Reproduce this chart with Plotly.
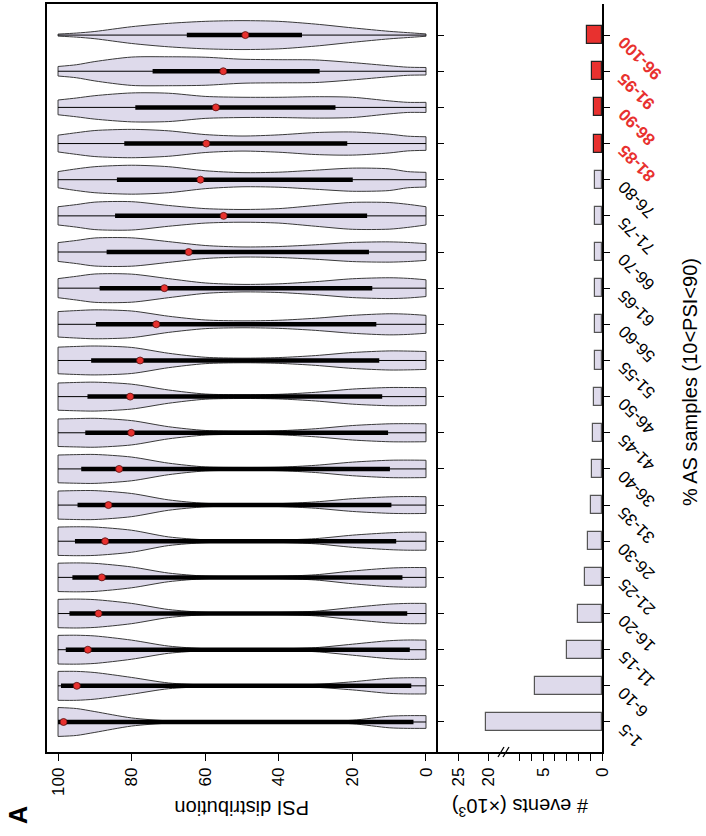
import plotly.graph_objects as go

# ---------------- data ----------------
categories = ["1-5", "6-10", "11-15", "16-20", "21-25", "26-30", "31-35", "36-40",
              "41-45", "46-50", "51-55", "56-60", "61-65", "66-70", "71-75", "76-80",
              "81-85", "86-90", "91-95", "96-100"]
highlight = [False] * 16 + [True] * 4

# PSI positions at which the violin widths were read (relative density, max = 1)
psi_grid = [0, 5, 10, 20, 30, 40, 50, 60, 70, 80, 90, 95, 100]
violin_width = [
    [0.44, 0.44, 0.40, 0.12, 0.05, 0.04, 0.04, 0.04, 0.08, 0.28, 0.72, 0.93, 1.00],
    [0.56, 0.56, 0.52, 0.28, 0.10, 0.05, 0.04, 0.06, 0.20, 0.58, 0.92, 1.00, 1.00],
    [0.66, 0.67, 0.62, 0.38, 0.14, 0.06, 0.05, 0.07, 0.25, 0.66, 0.95, 1.00, 0.99],
    [0.70, 0.70, 0.65, 0.42, 0.16, 0.07, 0.05, 0.08, 0.28, 0.70, 0.96, 1.00, 0.98],
    [0.68, 0.68, 0.64, 0.44, 0.18, 0.08, 0.06, 0.09, 0.30, 0.72, 0.97, 1.00, 0.98],
    [0.62, 0.62, 0.58, 0.42, 0.18, 0.08, 0.07, 0.10, 0.30, 0.76, 0.98, 1.00, 0.98],
    [0.58, 0.59, 0.57, 0.44, 0.22, 0.10, 0.08, 0.12, 0.36, 0.80, 1.00, 1.00, 0.97],
    [0.60, 0.61, 0.60, 0.47, 0.25, 0.12, 0.10, 0.14, 0.40, 0.82, 1.00, 0.99, 0.96],
    [0.62, 0.63, 0.62, 0.50, 0.28, 0.14, 0.11, 0.16, 0.42, 0.84, 1.00, 0.98, 0.95],
    [0.62, 0.63, 0.63, 0.52, 0.30, 0.16, 0.13, 0.18, 0.46, 0.86, 1.00, 0.98, 0.94],
    [0.62, 0.65, 0.66, 0.55, 0.34, 0.20, 0.16, 0.22, 0.50, 0.90, 1.00, 0.97, 0.92],
    [0.62, 0.70, 0.73, 0.62, 0.42, 0.28, 0.24, 0.30, 0.56, 0.92, 1.00, 0.95, 0.88],
    [0.58, 0.68, 0.72, 0.65, 0.45, 0.30, 0.26, 0.36, 0.66, 0.97, 0.98, 0.82, 0.66],
    [0.58, 0.66, 0.70, 0.66, 0.50, 0.38, 0.35, 0.45, 0.72, 0.98, 0.97, 0.80, 0.65],
    [0.63, 0.80, 0.92, 0.93, 0.72, 0.50, 0.44, 0.50, 0.72, 0.98, 0.95, 0.78, 0.63],
    [0.51, 0.56, 0.75, 0.80, 0.66, 0.52, 0.49, 0.62, 0.90, 1.00, 0.90, 0.75, 0.56],
    [0.47, 0.51, 0.65, 0.80, 0.76, 0.60, 0.52, 0.62, 0.88, 0.98, 0.90, 0.75, 0.58],
    [0.35, 0.35, 0.45, 0.70, 0.74, 0.70, 0.70, 0.76, 0.98, 1.00, 0.81, 0.65, 0.51],
    [0.26, 0.28, 0.38, 0.60, 0.78, 0.80, 0.83, 0.97, 1.00, 0.98, 0.67, 0.45, 0.33],
    [0.08, 0.17, 0.26, 0.50, 0.76, 0.95, 1.00, 0.95, 0.81, 0.58, 0.25, 0.14, 0.07],
]
psi_min = [0] * 20
psi_max = [100] * 20
psi_q1 = [3.4, 4.0, 4.4, 5.1, 6.4, 8.1, 9.4, 9.8, 10.3, 11.9,
          12.7, 13.5, 14.6, 15.5, 16.0, 19.9, 21.4, 24.6, 28.9, 33.7]
psi_q3 = [100.0, 99.2, 97.9, 96.9, 96.1, 95.4, 94.7, 93.7, 92.6, 92.0,
          91.0, 89.7, 88.7, 86.8, 84.5, 84.0, 82.0, 79.0, 74.3, 65.0]
psi_median = [98.5, 94.9, 91.9, 89.0, 88.1, 87.2, 86.3, 83.4, 80.1, 80.4,
              77.7, 73.3, 71.1, 64.5, 55.0, 61.3, 59.7, 57.1, 55.1, 49.1]

# number of events (x10^3)
events_k = [20.3, 5.65, 3.0, 2.07, 1.47, 1.19, 0.93, 0.85, 0.79, 0.71,
            0.63, 0.63, 0.60, 0.60, 0.57, 0.57, 0.65, 0.71, 0.85, 1.30]

psi_ticks = [0, 20, 40, 60, 80, 100]
low_ticks = [0, 5]
low_minor_ticks = [1, 2, 3, 4, 6, 7]
high_ticks = [20, 25]

# ---------------- style ----------------
FONT = "Liberation Sans, Arial, Helvetica, sans-serif"
VIOLIN_FILL = "rgb(222,218,235)"
VIOLIN_LINE = "#3a3a3a"
RED = "#e8312f"
HALF = 0.40  # max half width of a violin in category units

W, H = 706, 836
ML, MR, MT, MB = 47, 104, 4, 84
PW = W - ML - MR
PH = H - MT - MB


def px_x(p):
    return (p - ML) / PW


def px_y(p):
    return (H - MB - p) / PH


fig = go.Figure()

# violins
edge_x, edge_y = [], []
for i, prof in enumerate(violin_width):
    up = [i + HALF * d for d in prof]
    lo = [i - HALF * d for d in prof]
    fig.add_trace(go.Scatter(x=psi_grid, y=up, mode="lines",
                             line=dict(color=VIOLIN_LINE, width=1, shape="spline", smoothing=0.8),
                             xaxis="x", yaxis="y", hoverinfo="skip", showlegend=False))
    fig.add_trace(go.Scatter(x=psi_grid, y=lo, mode="lines", fill="tonexty",
                             fillcolor=VIOLIN_FILL,
                             line=dict(color=VIOLIN_LINE, width=1, shape="spline", smoothing=0.8),
                             xaxis="x", yaxis="y", hoverinfo="skip", showlegend=False))
    edge_x += [psi_grid[0], psi_grid[0], None, psi_grid[-1], psi_grid[-1], None]
    edge_y += [lo[0], up[0], None, lo[-1], up[-1], None]

fig.add_trace(go.Scatter(x=edge_x, y=edge_y, mode="lines",
                         line=dict(color=VIOLIN_LINE, width=1),
                         xaxis="x", yaxis="y", hoverinfo="skip", showlegend=False))

# whiskers
wx, wy = [], []
for i in range(len(categories)):
    wx += [psi_min[i], psi_max[i], None]
    wy += [i, i, None]
fig.add_trace(go.Scatter(x=wx, y=wy, mode="lines", line=dict(color="black", width=1),
                         xaxis="x", yaxis="y", hoverinfo="skip", showlegend=False))

# interquartile bars
qx, qy = [], []
for i in range(len(categories)):
    qx += [psi_q1[i], psi_q3[i], None]
    qy += [i, i, None]
fig.add_trace(go.Scatter(x=qx, y=qy, mode="lines", line=dict(color="black", width=4.5),
                         xaxis="x", yaxis="y", hoverinfo="skip", showlegend=False))

# medians
fig.add_trace(go.Scatter(x=psi_median, y=list(range(len(categories))), mode="markers",
                         marker=dict(color=RED, size=7, line=dict(color="#551010", width=0.8)),
                         xaxis="x", yaxis="y", hoverinfo="skip", showlegend=False))

# bars (broken axis: drawn on both segments)
bar_fill = [RED if h else VIOLIN_FILL for h in highlight]
bar_line = ["#222222" if h else "#555555" for h in highlight]
for xa in ("x2", "x3"):
    fig.add_trace(go.Bar(x=events_k, y=list(range(len(categories))), orientation="h",
                         width=0.5, marker=dict(color=bar_fill, line=dict(color=bar_line, width=1.2)),
                         xaxis=xa, yaxis="y2", hoverinfo="skip", showlegend=False))

# domains
d_violin = [0, px_x(436)]
d_high = [px_x(436), px_x(505)]
d_low = [px_x(505), 1]

yrange = [-0.83, 19.86]
tickfont = dict(family=FONT, size=17, color="black")

fig.update_layout(
    width=W, height=H,
    margin=dict(l=ML, r=MR, t=MT, b=MB, autoexpand=False),
    paper_bgcolor="white", plot_bgcolor="white",
    font=dict(family=FONT, color="black"),
    bargap=0,
    xaxis=dict(domain=d_violin, anchor="y", range=[103.0, -2.72], tickvals=psi_ticks,
               tickangle=-90, ticks="outside", ticklen=7, tickwidth=1.2, tickcolor="black",
               showline=True, linecolor="black", linewidth=1.5, mirror=True,
               showgrid=False, zeroline=False, tickfont=tickfont),
    yaxis=dict(domain=[0, 1], anchor="x", range=yrange, side="right",
               tickvals=list(range(len(categories))), showticklabels=False,
               ticks="outside", ticklen=6, tickwidth=1.2, tickcolor="black",
               showline=True, linecolor="black", linewidth=1.5, mirror=True,
               showgrid=False, zeroline=False),
    xaxis2=dict(domain=d_low, anchor="y2", range=[8.22, 0], tickvals=low_ticks,
                tickangle=-90, ticks="outside", ticklen=7,
                tickwidth=1.2, tickcolor="black", showline=True, linecolor="black",
                linewidth=1.5, showgrid=False, zeroline=False, tickfont=tickfont,
                minor=dict(tickvals=low_minor_ticks, ticks="outside", ticklen=7,
                           tickwidth=1.2, tickcolor="black", showgrid=False)),
    xaxis3=dict(domain=d_high, anchor="y2", range=[28.7, 17.2], tickvals=high_ticks,
                tickangle=-90, ticks="outside", ticklen=7, tickwidth=1.2, tickcolor="black",
                showline=True, linecolor="black", linewidth=1.5, showgrid=False,
                zeroline=False, tickfont=tickfont),
    yaxis2=dict(domain=[0, 1], anchor="x2", range=yrange, side="right",
                tickvals=list(range(len(categories))), showticklabels=False,
                ticks="outside", ticklen=6, tickwidth=1.2, tickcolor="black",
                showline=True, linecolor="black", linewidth=1.5,
                showgrid=False, zeroline=False),
)

# axis break marks
yb = px_y(752)
for dx in (0, 5):
    fig.add_shape(type="line", xref="paper", yref="paper",
                  x0=px_x(498 + dx), y0=yb - 5 / PH, x1=px_x(504 + dx), y1=yb + 5 / PH,
                  line=dict(color="black", width=1.3))

# category labels (rotated)
annotations = []
for i, (c, h) in enumerate(zip(categories, highlight)):
    txt = f"<b>{c}</b>" if h else c
    annotations.append(dict(text=txt, x=1.0, xref="paper", y=i, yref="y2",
                            xanchor="left", yanchor="top", xshift=10, yshift=5,
                            textangle=-135, showarrow=False,
                            font=dict(family=FONT, size=17, color=RED if h else "black")))

annotations += [
    dict(text="PSI distribution", x=px_x(242), y=px_y(808), xref="paper", yref="paper",
         xanchor="center", yanchor="middle",
         textangle=180, showarrow=False, font=dict(family=FONT, size=20)),
    dict(text="# events (×10<sup>3</sup>)", x=px_x(520), y=px_y(808), xref="paper", yref="paper",
         xanchor="center", yanchor="middle",
         textangle=180, showarrow=False, font=dict(family=FONT, size=20)),
    dict(text="% AS samples (10<PSI<90)", x=px_x(690), y=px_y(382), xref="paper", yref="paper",
         xanchor="center", yanchor="middle",
         textangle=-90, showarrow=False, font=dict(family=FONT, size=20)),
    dict(text="<b>A</b>", x=px_x(18), y=px_y(815), xref="paper", yref="paper",
         xanchor="center", yanchor="middle",
         textangle=-90, showarrow=False, font=dict(family=FONT, size=25)),
]
fig.update_layout(annotations=annotations)

fig.write_html("out.html", config={"displayModeBar": False},
               post_script="document.body.style.margin='0px';document.body.style.overflow='hidden';")
